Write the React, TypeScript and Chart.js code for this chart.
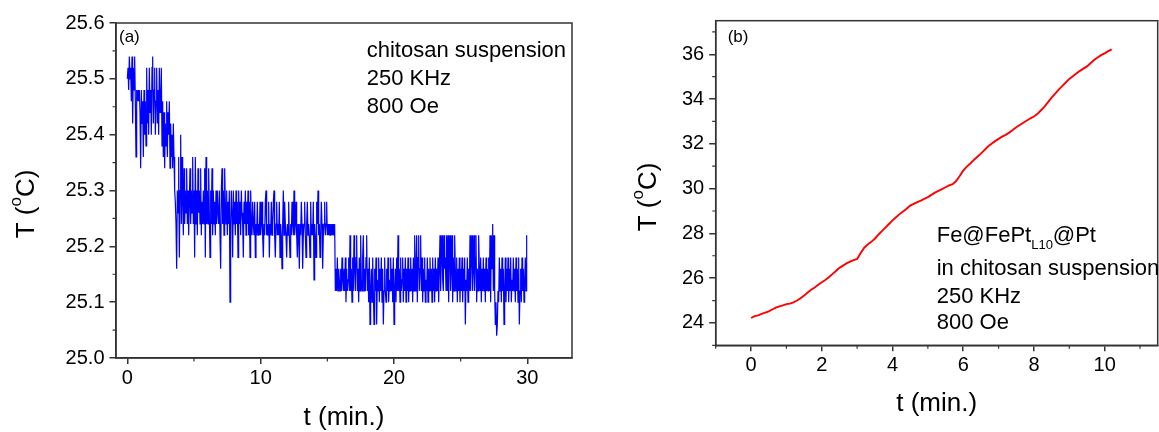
import React, { useEffect, useRef } from "react";
import { Chart, registerables } from "chart.js";

Chart.register(...registerables);

const FONT = "'Liberation Sans', Arial, Helvetica, sans-serif";
const AXIS = "#333333";

// ---------- Panel (a): chitosan suspension only ----------
const timeStepA = 0.05; // min between samples (one row = one minute)
const tempA = [
  25.50, 25.52, 25.48, 25.54, 25.50, 25.52, 25.46, 25.54, 25.42, 25.52, 25.48, 25.54, 25.46, 25.36, 25.48, 25.46, 25.48, 25.46, 25.48, 25.44,
  25.34, 25.48, 25.42, 25.46, 25.36, 25.48, 25.40, 25.46, 25.38, 25.52, 25.42, 25.48, 25.40, 25.52, 25.44, 25.48, 25.40, 25.52, 25.54, 25.42,
  25.48, 25.52, 25.40, 25.46, 25.52, 25.42, 25.48, 25.40, 25.52, 25.44, 25.46, 25.52, 25.38, 25.46, 25.36, 25.44, 25.34, 25.42, 25.38, 25.46,
  25.36, 25.44, 25.40, 25.46, 25.34, 25.42, 25.36, 25.40, 25.34, 25.42, 25.36, 25.30, 25.28, 25.24, 25.16, 25.30, 25.26, 25.36, 25.18, 25.30,
  25.40, 25.24, 25.36, 25.28, 25.22, 25.34, 25.24, 25.30, 25.26, 25.34, 25.24, 25.30, 25.22, 25.28, 25.34, 25.24, 25.30, 25.26, 25.36, 25.24,
  25.30, 25.18, 25.36, 25.24, 25.30, 25.22, 25.34, 25.26, 25.30, 25.24, 25.34, 25.22, 25.28, 25.24, 25.30, 25.24, 25.34, 25.18, 25.36, 25.24,
  25.30, 25.24, 25.34, 25.26, 25.18, 25.30, 25.24, 25.34, 25.22, 25.30, 25.24, 25.28, 25.22, 25.30, 25.24, 25.30, 25.26, 25.24, 25.30, 25.22,
  25.16, 25.30, 25.34, 25.24, 25.30, 25.22, 25.34, 25.28, 25.24, 25.30, 25.22, 25.28, 25.24, 25.30, 25.10, 25.24, 25.30, 25.26, 25.18, 25.30,
  25.24, 25.28, 25.22, 25.30, 25.24, 25.28, 25.18, 25.30, 25.24, 25.28, 25.22, 25.30, 25.26, 25.24, 25.18, 25.28, 25.24, 25.30, 25.22, 25.28,
  25.24, 25.30, 25.22, 25.28, 25.18, 25.30, 25.24, 25.22, 25.28, 25.24, 25.22, 25.28, 25.18, 25.24, 25.22, 25.28, 25.22, 25.24, 25.22, 25.28,
  25.22, 25.24, 25.28, 25.22, 25.18, 25.24, 25.22, 25.28, 25.30, 25.22, 25.24, 25.22, 25.28, 25.18, 25.24, 25.22, 25.28, 25.22, 25.24, 25.28,
  25.30, 25.22, 25.18, 25.24, 25.28, 25.22, 25.24, 25.22, 25.28, 25.18, 25.24, 25.22, 25.16, 25.24, 25.30, 25.22, 25.28, 25.24, 25.22, 25.18,
  25.24, 25.22, 25.28, 25.22, 25.18, 25.24, 25.22, 25.28, 25.24, 25.22, 25.30, 25.22, 25.24, 25.28, 25.22, 25.18, 25.24, 25.22, 25.16, 25.24,
  25.22, 25.28, 25.24, 25.16, 25.22, 25.24, 25.28, 25.22, 25.18, 25.24, 25.28, 25.22, 25.24, 25.22, 25.18, 25.28, 25.22, 25.24, 25.22, 25.28,
  25.14, 25.24, 25.22, 25.18, 25.28, 25.24, 25.30, 25.22, 25.24, 25.18, 25.22, 25.28, 25.24, 25.16, 25.22, 25.24, 25.28, 25.22, 25.24, 25.28,
  25.22, 25.24, 25.22, 25.24, 25.22, 25.24, 25.22, 25.24, 25.22, 25.24, 25.22, 25.24, 25.12, 25.16, 25.12, 25.18, 25.12, 25.16, 25.14, 25.12,
  25.16, 25.12, 25.18, 25.14, 25.12, 25.16, 25.12, 25.18, 25.10, 25.16, 25.12, 25.14, 25.18, 25.12, 25.22, 25.12, 25.16, 25.10, 25.18, 25.12,
  25.22, 25.16, 25.12, 25.18, 25.22, 25.12, 25.16, 25.10, 25.18, 25.12, 25.22, 25.14, 25.12, 25.18, 25.22, 25.12, 25.16, 25.12, 25.18, 25.22,
  25.12, 25.16, 25.10, 25.18, 25.06, 25.12, 25.16, 25.10, 25.18, 25.12, 25.06, 25.16, 25.12, 25.18, 25.06, 25.14, 25.12, 25.18, 25.10, 25.16,
  25.12, 25.18, 25.10, 25.16, 25.06, 25.12, 25.18, 25.12, 25.10, 25.16, 25.12, 25.18, 25.10, 25.14, 25.12, 25.18, 25.12, 25.16, 25.10, 25.18,
  25.06, 25.12, 25.16, 25.10, 25.18, 25.12, 25.22, 25.12, 25.16, 25.10, 25.18, 25.12, 25.14, 25.18, 25.10, 25.16, 25.12, 25.18, 25.10, 25.16,
  25.12, 25.18, 25.10, 25.16, 25.12, 25.18, 25.12, 25.16, 25.10, 25.18, 25.12, 25.22, 25.12, 25.16, 25.22, 25.10, 25.18, 25.22, 25.12, 25.16,
  25.22, 25.12, 25.18, 25.10, 25.16, 25.12, 25.18, 25.10, 25.14, 25.12, 25.18, 25.10, 25.16, 25.12, 25.18, 25.12, 25.16, 25.10, 25.18, 25.12,
  25.16, 25.10, 25.18, 25.12, 25.16, 25.12, 25.18, 25.10, 25.16, 25.22, 25.12, 25.18, 25.22, 25.14, 25.12, 25.22, 25.16, 25.18, 25.12, 25.22,
  25.12, 25.22, 25.10, 25.18, 25.22, 25.12, 25.16, 25.22, 25.10, 25.18, 25.12, 25.22, 25.16, 25.12, 25.18, 25.10, 25.16, 25.12, 25.18, 25.10,
  25.16, 25.12, 25.18, 25.10, 25.16, 25.12, 25.18, 25.06, 25.14, 25.12, 25.18, 25.10, 25.16, 25.12, 25.22, 25.12, 25.18, 25.22, 25.12, 25.16,
  25.22, 25.12, 25.18, 25.22, 25.10, 25.16, 25.12, 25.22, 25.16, 25.12, 25.18, 25.10, 25.16, 25.12, 25.18, 25.12, 25.16, 25.10, 25.18, 25.12,
  25.16, 25.12, 25.18, 25.12, 25.22, 25.10, 25.22, 25.16, 25.24, 25.12, 25.22, 25.12, 25.06, 25.10, 25.04, 25.06, 25.12, 25.10, 25.18, 25.12,
  25.16, 25.10, 25.18, 25.12, 25.16, 25.06, 25.12, 25.18, 25.10, 25.16, 25.12, 25.18, 25.10, 25.16, 25.12, 25.18, 25.10, 25.14, 25.12, 25.18,
  25.12, 25.16, 25.10, 25.18, 25.12, 25.16, 25.10, 25.18, 25.06, 25.12, 25.16, 25.10, 25.18, 25.12, 25.16, 25.10, 25.14, 25.18, 25.12, 25.22,
];
const xTicksA = [0, 10, 20, 30];
const xMinorA = [5, 15, 25];
const yTicksA = [25.0, 25.1, 25.2, 25.3, 25.4, 25.5, 25.6];
const yMinorA = [25.05, 25.15, 25.25, 25.35, 25.45, 25.55];
const notesA = ["chitosan suspension", "250 KHz", "800 Oe"];

// ---------- Panel (b): Fe@FePt L10 @Pt in chitosan ----------
const timeStepB = 0.1;
const tempB = [
  24.22, 24.30, 24.34, 24.40, 24.46, 24.52, 24.60, 24.68, 24.74, 24.78,
  24.84, 24.86, 24.92, 25.00, 25.10, 25.22, 25.36, 25.48, 25.58, 25.70,
  25.82, 25.92, 26.04, 26.18, 26.32, 26.46, 26.56, 26.66, 26.74, 26.80,
  26.86, 27.12, 27.36, 27.50, 27.62, 27.76, 27.94, 28.10, 28.26, 28.42,
  28.58, 28.72, 28.86, 28.98, 29.10, 29.24, 29.32, 29.40, 29.46, 29.54,
  29.62, 29.72, 29.82, 29.90, 29.98, 30.06, 30.14, 30.20, 30.34, 30.56,
  30.80, 30.98, 31.12, 31.28, 31.42, 31.56, 31.72, 31.88, 32.00, 32.12,
  32.22, 32.32, 32.40, 32.50, 32.62, 32.74, 32.84, 32.94, 33.04, 33.14,
  33.22, 33.34, 33.50, 33.66, 33.86, 34.06, 34.24, 34.42, 34.58, 34.74,
  34.90, 35.02, 35.14, 35.26, 35.36, 35.46, 35.60, 35.74, 35.86, 35.96,
  36.04, 36.14, 36.22,
];
const xTicksB = [0, 2, 4, 6, 8, 10];
const xMinorB = [-1, 1, 3, 5, 7, 9, 11];
const yTicksB = [24, 26, 28, 30, 32, 34, 36];
const yMinorB = [23, 25, 27, 29, 31, 33, 35, 37];
const notesB = ["in chitosan suspension", "250 KHz", "800 Oe"];

const xTitle = "t (min.)";

type PanelCfg = {
  width: number;
  height: number;
  area: { left: number; top: number; right: number; bottom: number };
  xMin: number; xMax: number; yMin: number; yMax: number;
  xTicks: number[]; xMinor: number[]; yTicks: number[]; yMinor: number[];
  yFmt: (v: number) => string;
  color: string; lineWidth: number;
  points: { x: number; y: number }[];
  tag: string; tagPos: [number, number];
  yTitleX: number; yTitleY: number; xTitleY: number;
  draw: (ctx: CanvasRenderingContext2D) => void;
};

function toPoints(step: number, vals: number[]) {
  return vals.map((v, i) => ({ x: +(i * step).toFixed(3), y: v }));
}

function drawYTitle(ctx: CanvasRenderingContext2D, bx: number, cy: number) {
  const big = `26px ${FONT}`;
  const small = `17px ${FONT}`;
  ctx.font = big;
  const w1 = ctx.measureText("T (").width;
  const w3 = ctx.measureText("C)").width;
  ctx.font = small;
  const w2 = ctx.measureText("o").width;
  const w = w1 + w2 + w3;
  ctx.save();
  ctx.translate(bx, cy);
  ctx.rotate(-Math.PI / 2);
  ctx.fillStyle = "#000";
  ctx.textBaseline = "alphabetic";
  ctx.textAlign = "left";
  let x = -w / 2;
  ctx.font = big;
  ctx.fillText("T (", x, 0);
  x += w1;
  ctx.font = small;
  ctx.fillText("o", x, -13);
  x += w2;
  ctx.font = big;
  ctx.fillText("C)", x, 0);
  ctx.restore();
}

function makeDecor(cfg: PanelCfg) {
  return {
    id: "decor",
    afterDraw(chart: any) {
      const ctx: CanvasRenderingContext2D = chart.ctx;
      const { left, right, top, bottom } = chart.chartArea;
      const sx = chart.scales.x;
      const sy = chart.scales.y;
      ctx.save();
      // frame
      ctx.strokeStyle = AXIS;
      ctx.lineWidth = 1.5;
      ctx.strokeRect(left, top, right - left, bottom - top);
      // minor ticks
      ctx.lineWidth = 1.2;
      ctx.beginPath();
      cfg.xMinor.forEach((v) => {
        const px = sx.getPixelForValue(v);
        ctx.moveTo(px, bottom);
        ctx.lineTo(px, bottom + 3.5);
      });
      cfg.yMinor.forEach((v) => {
        const py = sy.getPixelForValue(v);
        ctx.moveTo(left, py);
        ctx.lineTo(left - 3.5, py);
      });
      ctx.stroke();
      // axis titles
      ctx.fillStyle = "#000";
      ctx.font = `26px ${FONT}`;
      ctx.textAlign = "center";
      ctx.textBaseline = "alphabetic";
      ctx.fillText(xTitle, (left + right) / 2, cfg.xTitleY);
      drawYTitle(ctx, cfg.yTitleX, cfg.yTitleY);
      // panel tag
      ctx.font = `17px ${FONT}`;
      ctx.textAlign = "left";
      ctx.fillText(cfg.tag, cfg.tagPos[0], cfg.tagPos[1]);
      // notes
      cfg.draw(ctx);
      ctx.restore();
    },
  };
}

function makeConfig(cfg: PanelCfg): any {
  return {
    type: "line",
    data: {
      datasets: [
        {
          data: cfg.points,
          borderColor: cfg.color,
          borderWidth: cfg.lineWidth,
          pointRadius: 0,
          tension: 0,
          fill: false,
        },
      ],
    },
    options: {
      responsive: false,
      animation: false,
      events: [],
      parsing: false,
      layout: {
        padding: { left: 0, top: cfg.area.top, right: cfg.width - cfg.area.right, bottom: 0 },
      },
      plugins: {
        legend: { display: false },
        tooltip: { enabled: false },
      },
      scales: {
        x: {
          type: "linear",
          min: cfg.xMin,
          max: cfg.xMax,
          afterFit: (s: any) => {
            s.height = cfg.height - cfg.area.bottom;
          },
          afterBuildTicks: (s: any) => {
            s.ticks = cfg.xTicks.map((v) => ({ value: v }));
          },
          grid: { display: true, drawOnChartArea: false, drawTicks: true, tickLength: 6, color: AXIS, lineWidth: 1.5 },
          border: { display: true, color: AXIS, width: 1.5 },
          ticks: {
            font: { family: FONT, size: 20 },
            color: "#000",
            padding: 2,
            maxRotation: 0,
            autoSkip: false,
            callback: (v: number) => String(v),
          },
        },
        y: {
          type: "linear",
          min: cfg.yMin,
          max: cfg.yMax,
          afterFit: (s: any) => {
            s.width = cfg.area.left;
          },
          afterBuildTicks: (s: any) => {
            s.ticks = cfg.yTicks.map((v) => ({ value: v }));
          },
          grid: { display: true, drawOnChartArea: false, drawTicks: true, tickLength: 6.5, color: AXIS, lineWidth: 1.5 },
          border: { display: true, color: AXIS, width: 1.5 },
          ticks: {
            font: { family: FONT, size: 20 },
            color: "#000",
            padding: 5,
            autoSkip: false,
            callback: (v: number) => cfg.yFmt(v),
          },
        },
      },
    },
    plugins: [makeDecor(cfg)],
  };
}

const panelA: PanelCfg = {
  width: 580,
  height: 432,
  area: { left: 116, top: 23, right: 572, bottom: 358 },
  xMin: -0.85, xMax: 33.35, yMin: 25.0, yMax: 25.6,
  xTicks: xTicksA, xMinor: xMinorA, yTicks: yTicksA, yMinor: yMinorA,
  yFmt: (v) => v.toFixed(1),
  color: "#0000ff", lineWidth: 1.2,
  points: toPoints(timeStepA, tempA),
  tag: "(a)", tagPos: [119, 41.5],
  yTitleX: 33.5, yTitleY: 204, xTitleY: 425,
  draw: (ctx) => {
    ctx.font = `22px ${FONT}`;
    ctx.textAlign = "left";
    ctx.fillStyle = "#000";
    const base = [56.5, 84.5, 112.5];
    notesA.forEach((t, i) => ctx.fillText(t, 366.7, base[i]));
  },
};

const panelB: PanelCfg = {
  width: 579,
  height: 432,
  area: { left: 135.7, top: 20.7, right: 577.7, bottom: 345.3 },
  xMin: -1, xMax: 11.5, yMin: 23, yMax: 37.5,
  xTicks: xTicksB, xMinor: xMinorB, yTicks: yTicksB, yMinor: yMinorB,
  yFmt: (v) => String(v),
  color: "#ff0000", lineWidth: 1.9,
  points: toPoints(timeStepB, tempB),
  tag: "(b)", tagPos: [147.7, 41.7],
  yTitleX: 76, yTitleY: 197, xTitleY: 410.5,
  draw: (ctx) => {
    ctx.fillStyle = "#000";
    ctx.textAlign = "left";
    const x0 = 356.7;
    ctx.font = `22px ${FONT}`;
    ctx.fillText("Fe@FePt", x0, 241.7);
    let x = x0 + ctx.measureText("Fe@FePt").width;
    ctx.font = `13px ${FONT}`;
    ctx.fillText("L10", x, 248.7);
    x += ctx.measureText("L10").width;
    ctx.font = `22px ${FONT}`;
    ctx.fillText("@Pt", x, 241.7);
    const base = [274.5, 302.5, 329.3];
    notesB.forEach((t, i) => ctx.fillText(t, x0, base[i]));
  },
};

function Panel({ cfg, left }: { cfg: PanelCfg; left: number }) {
  const ref = useRef<HTMLCanvasElement>(null);
  useEffect(() => {
    if (!ref.current) return;
    const chart = new Chart(ref.current, makeConfig(cfg));
    return () => chart.destroy();
  }, [cfg]);
  return (
    <canvas
      ref={ref}
      width={cfg.width}
      height={cfg.height}
      style={{ position: "absolute", left, top: 0, width: cfg.width, height: cfg.height }}
    />
  );
}

export default function App() {
  return (
    <div
      style={{
        position: "fixed",
        left: 0,
        top: 0,
        width: 1159,
        height: 432,
        background: "#ffffff",
        overflow: "hidden",
      }}
    >
      <Panel cfg={panelA} left={0} />
      <Panel cfg={panelB} left={580} />
    </div>
  );
}
